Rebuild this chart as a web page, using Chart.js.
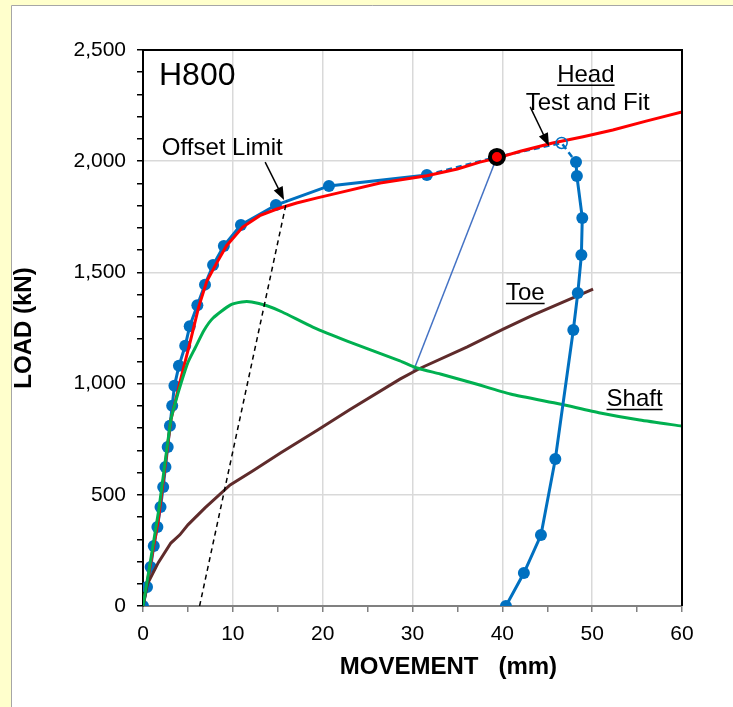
<!DOCTYPE html>
<html>
<head>
<meta charset="utf-8">
<script src="https://cdn.jsdelivr.net/npm/chart.js@4.4.1/dist/chart.umd.min.js"></script>
<style>
  html, body { margin: 0; padding: 0; background: #ffffcc; }
  canvas { display: block; }
</style>
</head>
<body>
<canvas id="c" width="733" height="707"></canvas>
<script>
// Test curve, loading branch (movement mm / load kN)
const loadX = [0, 0.45, 0.85, 1.2, 1.6, 1.95, 2.25, 2.5, 2.75, 3.0, 3.25, 3.5, 4.0, 4.7, 5.2, 6.05, 6.9, 7.8, 9.0, 10.9, 14.8, 20.7, 31.6];
const loadY = [0, 85, 175, 270, 355, 445, 535, 625, 715, 810, 900, 990, 1080, 1170, 1258, 1352, 1445, 1533, 1619, 1713, 1803, 1889, 1938];
// Test curve, dashed part near peak
const peakX = [31.6, 39.4, 46.6, 48.2];
const peakY = [1938, 2019, 2082, 1996];
// Test curve, unloading branch
const unloadX = [48.2, 48.3, 48.9, 48.8, 48.4, 47.9, 45.9, 44.3, 42.4, 40.4];
const unloadY = [1996, 1933, 1745, 1578, 1407, 1241, 661, 319, 148, 0];
// Fitted head curve
const fitX = [0, 1.7, 3.1, 4.1, 5.3, 6.2, 7.1, 8.1, 9.3, 11.1, 13.0, 14.9, 17.1, 19.4, 22.0, 26.4, 31.6, 35.0, 37.5, 39.4, 42.0, 45.6, 49.0, 52.3, 56.0, 60.0];
const fitY = [0, 385, 836, 1005, 1196, 1345, 1460, 1535, 1620, 1704, 1755, 1785, 1812, 1835, 1860, 1902, 1935, 1965, 1996, 2014, 2045, 2082, 2110, 2140, 2180, 2222];
// Shaft curve
const shaftX = [0, 1.7, 3.1, 3.6, 4.3, 5.0, 5.8, 6.8, 7.8, 9.7, 11.0, 12.1, 13.8, 15.5, 18.9, 22.8, 28.6, 30.5, 33.1, 36.7, 40.9, 46.4, 50.9, 55.3, 60];
const shaftY = [0, 418, 836, 915, 1010, 1095, 1160, 1240, 1295, 1353, 1367, 1367, 1350, 1322, 1254, 1190, 1102, 1070, 1043, 1003, 953, 908, 868, 836, 809];
// Toe curve
const toeX = [0, 0.5, 1.7, 3.1, 4.1, 5.0, 6.9, 9.7, 12.2, 15.3, 19.4, 23.0, 28.6, 30.8, 36.1, 40.1, 43.4, 50.1];
const toeY = [0, 100, 195, 283, 320, 365, 441, 544, 607, 688, 790, 882, 1020, 1068, 1165, 1245, 1308, 1425];
// Offset limit line
const offsetX = [6.3, 16.0];
const offsetY = [0, 1822];
// Line from chosen point down to toe/shaft crossing
const linkX = [39.4, 30.1];
const linkY = [2019, 1057];
// Special markers
const limitPoint = [39.4, 2019];
const lastPoint = [46.6, 2082];

const xTicks = [0, 10, 20, 30, 40, 50, 60];
const yTicks = [0, 500, 1000, 1500, 2000, 2500];

const pts = (xs, ys) => xs.map((x, i) => ({ x: x, y: ys[i] }));
const FONT = '"Liberation Sans", Arial, sans-serif';
const BLUE = '#0070c0';

const panelPlugin = {
  id: 'panel',
  beforeDraw(chart) {
    const ctx = chart.ctx;
    ctx.save();
    ctx.fillStyle = '#ffffcc';
    ctx.fillRect(0, 0, chart.width, chart.height);
    ctx.fillStyle = '#ffffff';
    ctx.fillRect(11, 5, chart.width, chart.height);
    ctx.strokeStyle = '#a6a6a6';
    ctx.lineWidth = 1;
    ctx.beginPath();
    ctx.moveTo(11.5, chart.height);
    ctx.lineTo(11.5, 5.5);
    ctx.lineTo(chart.width, 5.5);
    ctx.stroke();
    ctx.restore();
  }
};

function arrow(ctx, x1, y1, x2, y2) {
  const a = Math.atan2(y2 - y1, x2 - x1), L = 13, W = 5;
  ctx.lineWidth = 1.5;
  ctx.beginPath();
  ctx.moveTo(x1, y1);
  ctx.lineTo(x2 - L * 0.8 * Math.cos(a), y2 - L * 0.8 * Math.sin(a));
  ctx.stroke();
  ctx.beginPath();
  ctx.moveTo(x2, y2);
  ctx.lineTo(x2 - L * Math.cos(a) + W * Math.sin(a), y2 - L * Math.sin(a) - W * Math.cos(a));
  ctx.lineTo(x2 - L * Math.cos(a) - W * Math.sin(a), y2 - L * Math.sin(a) + W * Math.cos(a));
  ctx.closePath();
  ctx.fill();
}

function label(ctx, text, x, y, align, underline) {
  ctx.textAlign = align;
  ctx.fillText(text, x, y);
  if (underline) {
    const w = ctx.measureText(text).width;
    const x0 = align === 'center' ? x - w / 2 : x;
    ctx.lineWidth = 1.5;
    ctx.beginPath();
    ctx.moveTo(x0, y + 3.5);
    ctx.lineTo(x0 + w, y + 3.5);
    ctx.stroke();
  }
}

const notesPlugin = {
  id: 'notes',
  afterDraw(chart) {
    const ctx = chart.ctx, xs = chart.scales.x, ys = chart.scales.y, a = chart.chartArea;
    const X = v => xs.getPixelForValue(v), Y = v => ys.getPixelForValue(v);
    ctx.save();
    // plot frame top / right
    ctx.strokeStyle = '#000';
    ctx.lineWidth = 2;
    ctx.beginPath();
    ctx.moveTo(a.left, a.top);
    ctx.lineTo(a.right, a.top);
    ctx.lineTo(a.right, a.bottom);
    ctx.stroke();

    ctx.fillStyle = '#000';
    ctx.textBaseline = 'alphabetic';
    ctx.font = '32px ' + FONT;
    label(ctx, 'H800', X(1.78), Y(2343), 'left', false);
    ctx.font = '24px ' + FONT;
    label(ctx, 'Offset Limit', X(2.1), Y(2028), 'left', false);
    label(ctx, 'Head', X(49.3), Y(2357), 'center', true);
    label(ctx, 'Test and Fit', X(49.5), Y(2230), 'center', false);
    label(ctx, 'Toe', X(40.4), Y(1376), 'left', true);
    label(ctx, 'Shaft', X(51.6), Y(899), 'left', true);
    arrow(ctx, X(13.6), Y(1996), X(15.7), Y(1826));
    arrow(ctx, X(43.1), Y(2244), X(45.2), Y(2068));

    ctx.font = 'bold 24px ' + FONT;
    ctx.textAlign = 'center';
    ctx.textBaseline = 'middle';
    ctx.fillText('MOVEMENT   (mm)', X(34), a.bottom + 61);
    ctx.restore();
  }
};

new Chart(document.getElementById('c'), {
  type: 'scatter',
  data: {
    datasets: [
      { data: pts([limitPoint[0]], [limitPoint[1]]), showLine: false, pointRadius: 7, pointBorderWidth: 4,
        pointBackgroundColor: '#ff0000', pointBorderColor: '#000', order: 0 },
      { data: pts([lastPoint[0]], [lastPoint[1]]), showLine: false, pointRadius: 5.5, pointBorderWidth: 1.5,
        pointBackgroundColor: 'rgba(255,255,255,0)', pointBorderColor: BLUE, order: 1 },
      { data: pts(offsetX, offsetY), showLine: true, pointRadius: 0, borderColor: '#000', borderWidth: 1.5,
        borderDash: [5, 4], order: 2 },
      { data: pts(unloadX, unloadY), showLine: true, pointRadius: 6, borderColor: BLUE, backgroundColor: BLUE,
        pointBorderWidth: 0, borderWidth: 3, order: 3 },
      { data: pts(shaftX, shaftY), showLine: true, pointRadius: 0, borderColor: '#00b050', borderWidth: 3,
        tension: 0.2, order: 4 },
      { data: pts(toeX, toeY), showLine: true, pointRadius: 0, borderColor: '#5f2b2b', borderWidth: 3, order: 5 },
      { data: pts(fitX, fitY), showLine: true, pointRadius: 0, borderColor: '#ff0000', borderWidth: 3, order: 6 },
      { data: pts(peakX, peakY), showLine: true, pointRadius: 0, borderColor: BLUE, borderWidth: 2.5,
        borderDash: [6, 4], order: 7 },
      { data: pts(loadX, loadY), showLine: true, pointRadius: 6, borderColor: BLUE, backgroundColor: BLUE,
        pointBorderWidth: 0, borderWidth: 3, order: 8 },
      { data: pts(linkX, linkY), showLine: true, pointRadius: 0, borderColor: '#4472c4', borderWidth: 1.5, order: 9 }
    ]
  },
  options: {
    responsive: false,
    animation: false,
    devicePixelRatio: 1,
    layout: { padding: { top: 50, right: 51, left: 0, bottom: 0 } },
    plugins: { legend: { display: false }, tooltip: { enabled: false } },
    scales: {
      x: {
        type: 'linear', min: 0, max: 60,
        afterFit: s => { s.height = 101; },
        afterBuildTicks: s => { s.ticks = []; for (let v = 0; v <= 60; v += 5) s.ticks.push({ value: v }); },
        ticks: {
          autoSkip: false, maxRotation: 0, padding: 10, color: '#000', font: { family: FONT, size: 21 },
          callback: v => xTicks.includes(v) ? String(v) : ''
        },
        grid: {
          color: c => xTicks.includes(c.tick.value) ? '#d9d9d9' : 'rgba(0,0,0,0)',
          lineWidth: 1.5, tickLength: 6, tickColor: '#808080', tickWidth: 1.5
        },
        border: { color: '#808080', width: 2 }
      },
      y: {
        type: 'linear', min: 0, max: 2500,
        afterFit: s => { s.width = 143; },
        afterBuildTicks: s => { s.ticks = []; for (let v = 0; v <= 2500; v += 100) s.ticks.push({ value: v }); },
        ticks: {
          autoSkip: false, padding: 11, color: '#000', font: { family: FONT, size: 21 },
          callback: v => yTicks.includes(v) ? v.toLocaleString('en-US') : ''
        },
        grid: {
          color: c => yTicks.includes(c.tick.value) ? '#d9d9d9' : 'rgba(0,0,0,0)',
          lineWidth: 1.5, tickLength: 6, tickColor: '#000', tickWidth: 1.5
        },
        border: { color: '#000', width: 2 },
        title: {
          display: true, text: 'LOAD (kN)', color: '#000',
          font: { family: FONT, size: 24, weight: 'bold' }, padding: { top: 10, bottom: 0 }
        }
      }
    }
  },
  plugins: [panelPlugin, notesPlugin]
});
</script>
</body>
</html>
